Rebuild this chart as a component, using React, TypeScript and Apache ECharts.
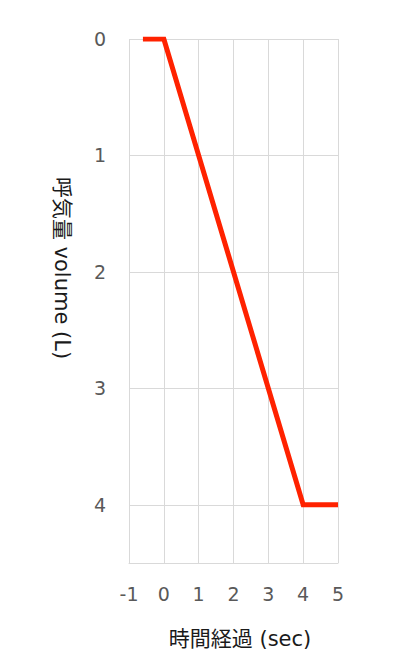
import React, { useEffect, useRef } from 'react';
import * as echarts from 'echarts';

// time (sec) vs exhaled volume (L)
const timeSec = [-0.6, 0, 4, 5];
const volumeL = [0, 0, 4, 4];
const xTicks = [-1, 0, 1, 2, 3, 4, 5];
const yTicks = [0, 1, 2, 3, 4];

const xName = '時間経過 (sec)';
const yName = '呼気量 volume (L)';

const labelFont = '"DejaVu Sans", "Noto Sans CJK JP", sans-serif';

const App: React.FC = () => {
  const chartRef = useRef<HTMLDivElement | null>(null);

  useEffect(() => {
    let chart: echarts.ECharts | null = null;
    if (chartRef.current) {
      chart = echarts.init(chartRef.current, undefined, { renderer: 'svg' });

      const option = {
        animation: false,
        backgroundColor: '#ffffff',
        grid: { left: 129, right: 62, top: 39, bottom: 98 },
        xAxis: {
          type: 'value',
          min: xTicks[0],
          max: xTicks[xTicks.length - 1],
          interval: 1,
          axisLine: { onZero: false, lineStyle: { color: '#d9d9d9', width: 1 } },
          axisTick: { show: false },
          splitLine: { show: true, lineStyle: { color: '#d9d9d9', width: 1 } },
          axisLabel: {
            margin: 21,
            color: '#595959',
            fontSize: 19,
            fontFamily: labelFont,
          },
        },
        yAxis: {
          type: 'value',
          inverse: true,
          min: yTicks[0],
          max: 4.5,
          interval: 1,
          axisLine: { show: true, lineStyle: { color: '#d9d9d9', width: 1 } },
          axisTick: { show: false },
          splitLine: { show: true, lineStyle: { color: '#d9d9d9', width: 1 } },
          axisLabel: {
            margin: 23,
            color: '#595959',
            fontSize: 19,
            fontFamily: labelFont,
            verticalAlign: 'middle',
            padding: [0, 0, 5, 0],
            formatter: (v: number) => (yTicks.includes(v) ? String(v) : ''),
          },
        },
        graphic: [
          {
            type: 'text',
            x: 62,
            y: 268,
            rotation: -Math.PI / 2,
            style: {
              text: yName,
              fill: '#1a1a1a',
              fontSize: 21,
              fontFamily: labelFont,
              textAlign: 'center',
              textVerticalAlign: 'middle',
            },
          },
          {
            type: 'text',
            x: 240,
            y: 639,
            style: {
              text: xName,
              fill: '#1a1a1a',
              fontSize: 21,
              fontFamily: labelFont,
              textAlign: 'center',
              textVerticalAlign: 'middle',
            },
          },
        ],
        series: [
          {
            type: 'line',
            data: timeSec.map((t, i) => [t, volumeL[i]]),
            symbol: 'none',
            lineStyle: { color: '#ff2200', width: 5, cap: 'butt', join: 'miter' },
          },
        ],
      };

      chart.setOption(option);
    }
    return () => {
      chart?.dispose();
    };
  }, []);

  return (
    <div
      ref={chartRef}
      style={{ position: 'fixed', left: 0, top: 0, width: 400, height: 661 }}
    ></div>
  );
};

export default App;
